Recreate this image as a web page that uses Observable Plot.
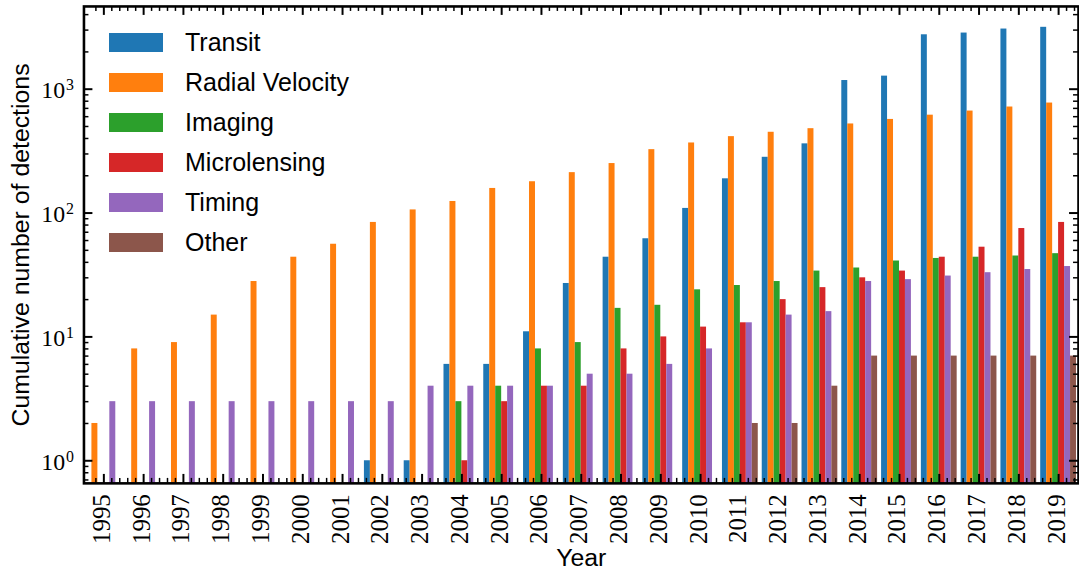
<!DOCTYPE html>
<html><head><meta charset="utf-8">
<script src="https://cdn.jsdelivr.net/npm/d3@7"></script>
<script src="https://cdn.jsdelivr.net/npm/@observablehq/plot@0.6"></script>
<style>
html,body{margin:0;padding:0;background:#fff;overflow:hidden;width:1079px;height:576px}
#wrap{position:relative;width:1079px;height:576px;overflow:hidden}
#chart svg{display:block}
.legend{position:absolute;left:109px;top:22.5px;font-family:"Liberation Sans",Arial,sans-serif;font-size:25px;color:#000}
.row{display:flex;align-items:center;height:40px;white-space:nowrap}
.sw{width:54px;height:19px;margin-right:22px}
</style></head>
<body><div id="wrap"><div id="chart"></div><div class="legend" id="legend"></div></div>
<script>
const years = [1995,1996,1997,1998,1999,2000,2001,2002,2003,2004,2005,2006,2007,2008,2009,2010,2011,2012,2013,2014,2015,2016,2017,2018,2019];
const methods = ["Transit","Radial Velocity","Imaging","Microlensing","Timing","Other"];
const colors = ["#1f77b4","#ff7f0e","#2ca02c","#d62728","#9467bd","#8c564b"];
const transit      = [null,null,null,null,null,null,null,1,1,6,6,11,27,44,62,109,189,282,362,1175,1275,2750,2840,3060,3160];
const radialVel    = [2,8,9,15,28,44,56,84,106,124,158,179,212,251,325,368,414,449,480,524,570,617,666,718,773];
const imaging      = [null,null,null,null,null,null,null,null,null,3,4,8,9,17,18,24,26,28,34,36,41,43,44,45,47];
const microlensing = [null,null,null,null,null,null,null,null,null,1,3,4,4,8,10,12,13,20,25,30,34,44,53,75,84];
const timing       = [3,3,3,3,3,3,3,3,4,4,4,4,5,5,6,8,13,15,16,28,29,31,33,35,37];
const other        = [null,null,null,null,null,null,null,null,null,null,null,null,null,null,null,null,2,2,4,7,7,7,7,7,7];
const yTickValues = [1,10,100,1000];
const yTickExponents = ["0","1","2","3"];
const yTitle = "Cumulative number of detections";
const xTitle = "Year";

const series = [transit, radialVel, imaging, microlensing, timing, other];
const table = [];
series.forEach((vals, i) => vals.forEach((v, j) => { if (v != null) table.push({year: years[j], method: methods[i], i, value: v}); }));

const W = 1086, H = 576, mL = 84, mR = 1, mT = 6, mB = 90;
const fw = W - mL - mR, fh = H - mT - mB;
const xDomain = [years[0] - 0.5, years[years.length - 1] + 0.5];
const yDomain = [0.657, 4656];
const barW = 0.15, groupHalf = 0.45;
const serif = "'Liberation Serif','DejaVu Serif',serif";
const sans = "'Liberation Sans',Arial,sans-serif";

const yMinor = [];
for (let k = -1; k <= 3; k++) for (let m = 2; m <= 9; m++) { const v = m * Math.pow(10, k); if (v > yDomain[0] && v < yDomain[1]) yMinor.push(v); }
const xMinor = [];
for (let t = Math.round(xDomain[0] * 5) + 1; t < xDomain[1] * 5; t++) if (t % 5 !== 0) xMinor.push(t / 5);

const MJ = 9, MN = 5;
const chart = Plot.plot({
  width: W, height: H, marginLeft: mL, marginRight: mR, marginTop: mT, marginBottom: mB,
  x: {type: "linear", domain: xDomain, axis: null},
  y: {type: "log", domain: yDomain, axis: null},
  color: {domain: methods, range: colors},
  marks: [
    Plot.rectY(table, {x1: d => d.year - groupHalf + d.i * barW, x2: d => d.year - groupHalf + (d.i + 1) * barW, y1: yDomain[0], y2: "value", fill: "method"}),
    Plot.tickY(yTickValues, {y: d => d, insetRight: fw - MJ, stroke: "black", strokeWidth: 2}),
    Plot.tickY(yTickValues, {y: d => d, insetLeft: fw - MJ, stroke: "black", strokeWidth: 2}),
    Plot.tickY(yMinor, {y: d => d, insetRight: fw - MN, stroke: "black", strokeWidth: 1.5}),
    Plot.tickY(yMinor, {y: d => d, insetLeft: fw - MN, stroke: "black", strokeWidth: 1.5}),
    Plot.tickX(years, {x: d => d, insetTop: fh - MJ, stroke: "black", strokeWidth: 2}),
    Plot.tickX(years, {x: d => d, insetBottom: fh - MJ, stroke: "black", strokeWidth: 2}),
    Plot.tickX(xMinor, {x: d => d, insetTop: fh - MN, stroke: "black", strokeWidth: 1.5}),
    Plot.tickX(xMinor, {x: d => d, insetBottom: fh - MN, stroke: "black", strokeWidth: 1.5}),
    Plot.frame({stroke: "black", strokeWidth: 2.6}),
    Plot.text(yTickValues, {y: d => d, text: () => "10", frameAnchor: "left", textAnchor: "end", lineAnchor: "middle", dx: -19, dy: 1.5, fontFamily: serif, fontSize: 24, fill: "black"}),
    Plot.text(yTickValues, {y: d => d, text: (d, i) => yTickExponents[i], frameAnchor: "left", textAnchor: "start", lineAnchor: "middle", dx: -18, dy: -4, fontFamily: serif, fontSize: 16, fill: "black"}),
    Plot.text(years, {x: d => d, text: d => String(d), frameAnchor: "bottom", rotate: -90, textAnchor: "end", lineAnchor: "middle", dy: 11, dx: -2, fontFamily: serif, fontSize: 25, fill: "black"}),
    Plot.text([yTitle], {text: d => d, frameAnchor: "left", rotate: -90, textAnchor: "middle", lineAnchor: "middle", dx: -63, fontFamily: sans, fontSize: 25, fill: "black"}),
    Plot.text([xTitle], {text: d => d, frameAnchor: "bottom", textAnchor: "middle", lineAnchor: "middle", dy: 75, fontFamily: sans, fontSize: 25, fill: "black"})
  ]
});
document.getElementById("chart").appendChild(chart);

const lg = document.getElementById("legend");
methods.forEach((m, i) => {
  const r = document.createElement("div"); r.className = "row";
  const s = document.createElement("div"); s.className = "sw"; s.style.background = colors[i];
  const t = document.createElement("span"); t.textContent = m;
  r.appendChild(s); r.appendChild(t); lg.appendChild(r);
});
</script></body></html>
